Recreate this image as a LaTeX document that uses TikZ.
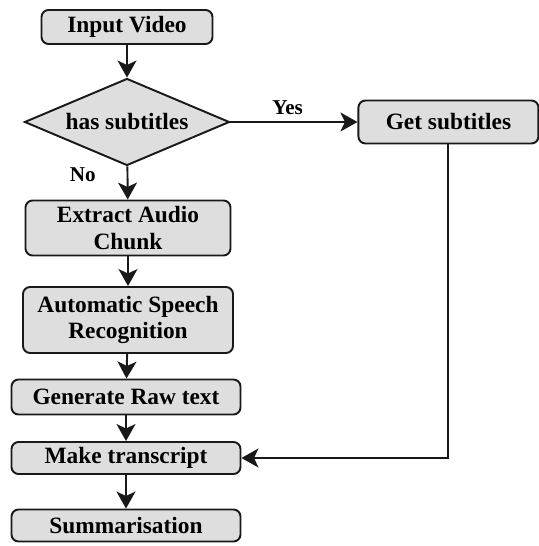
\documentclass[tikz,border=0pt]{standalone}
\usepackage{fontspec}
\setmainfont{Liberation Serif}[BoldFont={Liberation Serif Bold}]
\usepackage{xcolor}
\usepackage{tikz}
\usetikzlibrary{shapes.geometric,arrows.meta,positioning}
\definecolor{boxgray}{RGB}{222,222,222}
\definecolor{edge}{RGB}{25,25,25}

\begin{document}
\begin{tikzpicture}[font=\fontsize{13.3}{15}\selectfont\bfseries,
  box/.style={draw=edge,line width=1.1pt,rounded corners=4pt,fill=boxgray,align=center,inner sep=1pt},
  decision/.style={draw=edge,line width=1.1pt,diamond,fill=boxgray,aspect=2.36,inner sep=0pt,minimum width=4.1cm,minimum height=1.74cm},
  arr/.style={draw=edge,line width=1.1pt,-{Stealth[length=0.34cm,width=0.38cm,inset=0.09cm]}},
  lbl/.style={font=\fontsize{12}{14}\selectfont\bfseries}
]
  \useasboundingbox (0,0) rectangle (10.76,-10.92);

  \node[box, minimum width=3.42cm, minimum height=0.68cm] at (2.54,-0.54) (input) {Input Video};
  \node[decision] at (2.54,-2.44) (hassub) {has subtitles};
  \node[box, minimum width=3.6cm, minimum height=0.86cm, right=2.54cm of hassub] (getsub) {Get subtitles};
  \node[box, minimum width=4.1cm, minimum height=1.1cm] at (2.56,-4.56) (audio) {Extract Audio\\Chunk};
  \node[box, minimum width=4.2cm, minimum height=1.32cm] at (2.56,-6.4) (asr) {Automatic Speech\\Recognition};
  \node[box, minimum width=4.58cm, minimum height=0.7cm] at (2.52,-7.94) (raw) {Generate Raw text};
  \node[box, minimum width=4.58cm, minimum height=0.64cm] at (2.52,-9.16) (trans) {Make transcript};
  \node[box, minimum width=4.58cm, minimum height=0.64cm] at (2.52,-10.51) (summ) {Summarisation};

  \draw[arr] (input) -- (hassub);
  \draw[arr] (hassub) -- node[lbl, above, pos=0.45] {Yes} (getsub);
  \draw[arr] (hassub) -- node[lbl, left=0.5cm, pos=0.25] {No} (audio);
  \draw[arr] (audio) -- (asr);
  \draw[arr] (asr) -- (raw);
  \draw[arr] (raw) -- (trans);
  \draw[arr] (getsub.south) |- (trans.east);
  \draw[arr] (trans) -- (summ);
\end{tikzpicture}
\end{document}
